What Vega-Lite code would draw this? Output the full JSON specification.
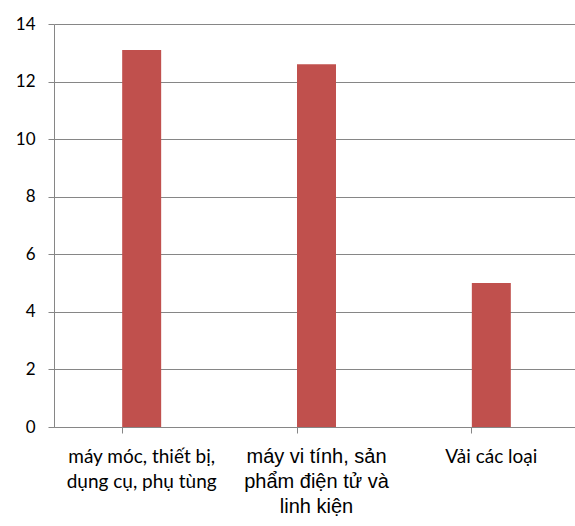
{
  "$schema": "https://vega.github.io/schema/vega-lite/v6.json",
  "autosize": "none",
  "padding": {"left": 54, "top": 24, "right": -4, "bottom": 99},
  "width": 525,
  "height": 403,
  "background": "white",
  "data": {
    "values": [
      {"mat_hang": "máy móc, thiết bị, dụng cụ, phụ tùng", "gia_tri": 13.1},
      {"mat_hang": "máy vi tính, sản phẩm điện tử và linh kiện", "gia_tri": 12.6},
      {"mat_hang": "Vải các loại", "gia_tri": 5.0}
    ]
  },
  "mark": {"type": "bar", "color": "#C0504D"},
  "encoding": {
    "x": {
      "field": "mat_hang",
      "type": "nominal",
      "sort": null,
      "title": null,
      "scale": {"paddingInner": 0.777, "paddingOuter": 0.39},
      "axis": {
        "labelAngle": 0,
        "bandPosition": 0,
        "tickSize": 6,
        "tickColor": "#868686",
        "domainColor": "#868686",
        "labelColor": "black",
        "labelFontSize": {
          "condition": {"test": "datum.value == 'máy vi tính, sản phẩm điện tử và linh kiện'", "value": 20},
          "value": 19
        },
        "labelFont": {
          "condition": {"test": "datum.value == 'máy vi tính, sản phẩm điện tử và linh kiện'", "value": "Liberation Sans"},
          "value": "Lato"
        },
        "labelLineHeight": 25,
        "labelPadding": 29,
        "labelBaseline": "alphabetic",
        "labelLimit": 200,
        "labelExpr": "datum.value == 'máy móc, thiết bị, dụng cụ, phụ tùng' ? ['máy móc, thiết bị,', 'dụng cụ, phụ tùng'] : datum.value == 'máy vi tính, sản phẩm điện tử và linh kiện' ? ['máy vi tính, sản', 'phẩm điện tử và', 'linh kiện'] : datum.value"
      }
    },
    "y": {
      "field": "gia_tri",
      "type": "quantitative",
      "title": null,
      "scale": {"domain": [0, 14], "nice": false},
      "axis": {
        "values": [0, 2, 4, 6, 8, 10, 12, 14],
        "grid": true,
        "gridColor": "#868686",
        "tickColor": "#868686",
        "domainColor": "#868686",
        "tickSize": 6,
        "labelPadding": 13,
        "labelFont": "Lato",
        "labelFontSize": 17,
        "labelColor": "black"
      }
    }
  },
  "config": {
    "view": {"stroke": null}
  }
}
